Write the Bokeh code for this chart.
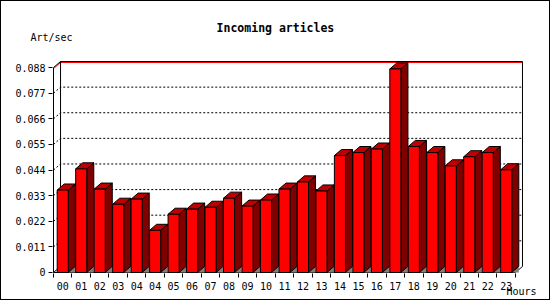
from bokeh.plotting import figure
from bokeh.models import (Range1d, LinearAxis, FixedTicker, NumeralTickFormatter,
                          CustomJSTickFormatter, Label)
from bokeh.embed import file_html
from bokeh.resources import INLINE

# ---- data ----
hours = ["00", "01", "02", "03", "04", "04", "05", "06", "07", "08", "09", "10",
         "11", "12", "13", "14", "15", "16", "17", "18", "19", "20", "21", "22", "23"]
art_per_sec = [0.0354, 0.0445, 0.0358, 0.0293, 0.0315, 0.0181, 0.0250, 0.0272,
               0.0280, 0.0319, 0.0285, 0.0311, 0.0358, 0.0389, 0.0350, 0.0502,
               0.0515, 0.0530, 0.0874, 0.0541, 0.0515, 0.0458, 0.0497, 0.0515, 0.0441]
y_ticks = [0, 0.011, 0.022, 0.033, 0.044, 0.055, 0.066, 0.077, 0.088]
y_max = 0.088
title_text = "Incoming articles"
y_label = "Art/sec"
x_label = "Hours"

# ---- geometry (pixels -> data units) ----
n = len(hours)
PXX = 18.4                 # px per category
PXY = 203 / y_max          # px per unit value
px = 1 / PXX
py = 1 / PXY
dx = 7 * px                # 3D depth
dy = 6 * py
bw0, bw1 = 0.2, 0.8        # bar front face within a category

FONT = "DejaVu Sans Mono"

p = figure(width=550, height=300, output_backend="svg", toolbar_location=None,
           x_range=Range1d(-1 * px, (521 - 53) * px),
           y_range=Range1d(-1 * py, (270 - 60) * py),
           x_axis_location=None, y_axis_location=None,
           min_border_left=51, min_border_right=28, min_border_top=59, min_border_bottom=28)
p.grid.visible = False
p.outline_line_color = None
p.background_fill_color = "white"
p.border_fill_color = "white"
p.styles = {"border": "1px solid black"}

# axes
yax = LinearAxis(ticker=FixedTicker(ticks=y_ticks),
                 formatter=NumeralTickFormatter(format="0.[000]"),
                 axis_line_color=None, major_tick_out=4, major_tick_in=0,
                 minor_tick_out=0, minor_tick_in=0, major_tick_line_color="black",
                 major_label_standoff=3, major_label_text_font=FONT,
                 major_label_text_font_size="10px", major_label_text_color="black")
p.add_layout(yax, "left")

xax = LinearAxis(ticker=FixedTicker(ticks=[i + 0.5 for i in range(n)],
                                    minor_ticks=list(range(n + 1))),
                 formatter=CustomJSTickFormatter(args=dict(labels=hours),
                                                 code="return labels[Math.floor(tick)];"),
                 axis_line_color=None, major_tick_out=0, major_tick_in=0,
                 minor_tick_out=4, minor_tick_in=0, minor_tick_line_color="black",
                 major_label_standoff=4, major_label_text_font=FONT,
                 major_label_text_font_size="10px", major_label_text_color="black")
p.add_layout(xax, "below")

# back wall grid lines (dotted) incl. left-wall diagonals
gxs, gys = [], []
for v in y_ticks[1:-1]:
    gxs.append([0, dx, n + dx])
    gys.append([v, v + dy, v + dy])
p.multi_line(gxs, gys, line_color="black", line_width=1, line_dash="2 2")

# top red line just under the wall top
p.line([0, dx, n + dx], [y_max - py, y_max + dy - py, y_max + dy - py],
       line_color="#ff0000", line_width=1)

# frame lines
p.multi_line([[0, 0, dx, n + dx, n + dx, n],
              [dx, dx],
              [0, dx],
              [0, n]],
             [[0, y_max, y_max + dy, y_max + dy, dy, 0],
              [dy, y_max + dy],
              [0, dy],
              [0, 0]],
             line_color="black", line_width=1)

# bars
lefts = [i + bw0 for i in range(n)]
rights = [i + bw1 for i in range(n)]
shadow_xs = [[r, r + dx, r + dx] for r in rights]
shadow_ys = [[0, 0, dy] for _ in rights]
p.patches(shadow_xs, shadow_ys, fill_color="#808080", line_color=None)

side_xs = [[r, r + dx, r + dx, r] for r in rights]
side_ys = [[0, dy, v + dy, v] for v in art_per_sec]
p.patches(side_xs, side_ys, fill_color="#800000", line_color="black", line_width=1)

top_xs = [[l, l + dx, r + dx, r] for l, r in zip(lefts, rights)]
top_ys = [[v, v + dy, v + dy, v] for v in art_per_sec]
p.patches(top_xs, top_ys, fill_color="#c00000", line_color="black", line_width=1)

p.quad(left=lefts, right=rights, bottom=0, top=art_per_sec,
       fill_color="#ff0000", line_color="black", line_width=1)


# texts (placed in the top side panel so they are not clipped to the frame)
def dxp(page_x):
    return (page_x - 53) * px


def dyp(page_y):
    return (270 - page_y) * py


p.add_layout(Label(x=dxp(274), y=dyp(28), text=title_text, text_font=FONT,
                   text_font_size="11.5px", text_font_style="bold", text_align="center",
                   text_baseline="middle", text_color="black"), "above")
p.add_layout(Label(x=dxp(30), y=dyp(37), text=y_label, text_font=FONT,
                   text_font_size="10px", text_align="left",
                   text_baseline="middle", text_color="black"), "above")
p.add_layout(Label(x=dxp(504), y=dyp(289), text=x_label, text_font=FONT,
                   text_font_size="10px", text_align="left",
                   text_baseline="middle", text_color="black"), "above")

open("out.html", "w").write(file_html(p, INLINE))
